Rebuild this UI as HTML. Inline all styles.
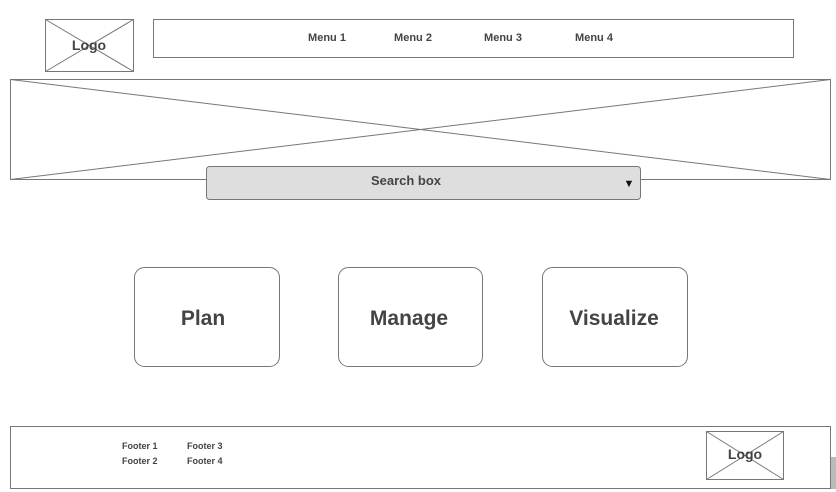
<!DOCTYPE html>
<html><head><style>
html,body{margin:0;padding:0;background:#fff;}
svg{display:block;font-family:"Liberation Sans",Arial,sans-serif;}
</style></head><body>
<svg width="836" height="492" viewBox="0 0 836 492" xmlns="http://www.w3.org/2000/svg">
<g fill="none" stroke="#777" stroke-width="1">
<rect x="45.5" y="19.5" width="88" height="52"/>
<line x1="45.5" y1="19.5" x2="133.5" y2="71.5"/><line x1="133.5" y1="19.5" x2="45.5" y2="71.5"/>
<rect x="153.5" y="19.5" width="640" height="38"/>
<rect x="10.5" y="79.5" width="820" height="100"/>
<line x1="10.5" y1="79.5" x2="830.5" y2="179.5"/><line x1="830.5" y1="79.5" x2="10.5" y2="179.5"/>
<rect x="206.5" y="166.5" width="434" height="33" rx="3" fill="#dedede"/>
<rect x="134.5" y="267.5" width="145" height="99" rx="10" fill="#fff"/>
<rect x="338.5" y="267.5" width="144" height="99" rx="10" fill="#fff"/>
<rect x="542.5" y="267.5" width="145" height="99" rx="10" fill="#fff"/>
<rect x="10.5" y="426.5" width="820" height="62"/>
<rect x="706.5" y="431.5" width="77" height="48"/>
<line x1="706.5" y1="431.5" x2="783.5" y2="479.5"/><line x1="783.5" y1="431.5" x2="706.5" y2="479.5"/>
</g>
<rect x="831" y="457" width="5" height="32" fill="#bbb"/>
<g fill="#444" font-weight="bold">
<text x="89" y="50" font-size="14" text-anchor="middle">Logo</text>
<text x="327" y="41" font-size="11" text-anchor="middle">Menu 1</text>
<text x="413" y="41" font-size="11" text-anchor="middle">Menu 2</text>
<text x="503" y="41" font-size="11" text-anchor="middle">Menu 3</text>
<text x="594" y="41" font-size="11" text-anchor="middle">Menu 4</text>
<text x="406" y="185" font-size="13" text-anchor="middle">Search box</text>
<text x="629" y="187" font-size="11" text-anchor="middle" fill="#111">▼</text>
<text x="203" y="325" font-size="21" text-anchor="middle">Plan</text>
<text x="409" y="325" font-size="21" text-anchor="middle">Manage</text>
<text x="614" y="325" font-size="21" text-anchor="middle">Visualize</text>
<text x="122" y="449" font-size="9">Footer 1</text>
<text x="187" y="449" font-size="9">Footer 3</text>
<text x="122" y="464" font-size="9">Footer 2</text>
<text x="187" y="464" font-size="9">Footer 4</text>
<text x="745" y="459" font-size="14" text-anchor="middle">Logo</text>
</g>
</svg>
</body></html>
